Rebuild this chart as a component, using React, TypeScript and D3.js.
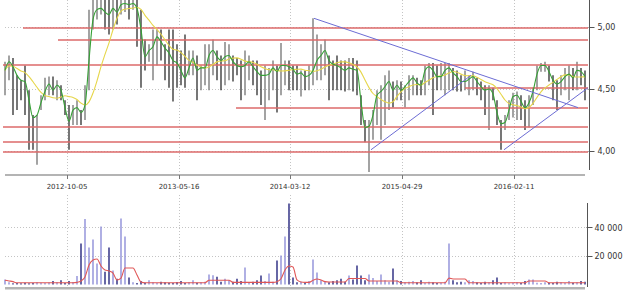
import React from 'react';
import * as d3 from 'd3';

const closes = [
  4.65, 4.72, 4.68, 4.61, 4.57, 4.56, 4.41, 4.27, 4.29, 4.39,
  4.48, 4.54, 4.49, 4.53, 4.49, 4.35, 4.24, 4.33, 4.35, 4.31,
  4.37, 4.73, 5.06, 5.14, 5.15, 5.12, 5.10, 5.15, 5.12, 5.18,
  5.19, 5.18, 5.19, 5.15, 4.98, 4.76, 4.81, 4.84, 4.92, 4.88,
  4.83, 4.79, 4.73, 4.71, 4.65, 4.59, 4.67, 4.75, 4.65, 4.67,
  4.67, 4.77, 4.81, 4.76, 4.73, 4.76, 4.77, 4.72, 4.69, 4.68,
  4.69, 4.72, 4.68, 4.64, 4.61, 4.61, 4.62, 4.67, 4.64, 4.69,
  4.69, 4.68, 4.66, 4.62, 4.63, 4.60, 4.61, 4.65, 4.73, 4.77,
  4.81, 4.73, 4.70, 4.69, 4.67, 4.65, 4.67, 4.66, 4.65, 4.40,
  4.19, 4.20, 4.29, 4.45, 4.48, 4.52, 4.56, 4.49, 4.53, 4.49,
  4.52, 4.56, 4.59, 4.55, 4.53, 4.65, 4.68, 4.65, 4.60, 4.60,
  4.65, 4.67, 4.63, 4.60, 4.56, 4.56, 4.58, 4.60, 4.56, 4.52,
  4.49, 4.50, 4.46, 4.31, 4.22, 4.23, 4.33, 4.44, 4.45, 4.40,
  4.35, 4.39, 4.48, 4.62, 4.69, 4.69, 4.64, 4.57, 4.54, 4.56,
  4.60, 4.62, 4.59, 4.65, 4.64, 4.60,
];

const highs = [
  4.72, 4.77, 4.75, 4.61, 4.57, 4.69, 4.49, 4.29, 4.25, 4.45,
  4.59, 4.60, 4.60, 4.57, 4.53, 4.41, 4.37, 4.37, 4.41, 4.33,
  4.53, 5.14, 5.22, 5.22, 5.22, 5.22, 5.22, 5.22, 5.22, 5.22,
  5.22, 5.22, 5.22, 5.22, 5.14, 4.90, 4.86, 4.98, 4.98, 4.98,
  4.86, 4.98, 4.98, 4.86, 4.81, 4.94, 4.81, 4.81, 4.77, 4.69,
  4.86, 4.86, 4.90, 4.81, 4.77, 4.88, 4.86, 4.77, 4.75, 4.73,
  4.81, 4.77, 4.73, 4.73, 4.65, 4.69, 4.67, 4.73, 4.69, 4.87,
  4.73, 4.73, 4.69, 4.69, 4.65, 4.65, 4.69, 5.07, 4.94, 4.86,
  4.90, 4.77, 4.73, 4.77, 4.73, 4.73, 4.75, 4.75, 4.73, 4.45,
  4.25, 4.25, 4.33, 4.49, 4.53, 4.61, 4.65, 4.56, 4.57, 4.56,
  4.53, 4.61, 4.61, 4.59, 4.57, 4.69, 4.71, 4.71, 4.69, 4.71,
  4.71, 4.71, 4.67, 4.65, 4.61, 4.65, 4.61, 4.64, 4.59, 4.56,
  4.53, 4.53, 4.51, 4.41, 4.25, 4.29, 4.41, 4.47, 4.48, 4.45,
  4.41, 4.45, 4.51, 4.69, 4.71, 4.72, 4.69, 4.61, 4.57, 4.61,
  4.67, 4.69, 4.67, 4.72, 4.67, 4.65,
];

const lows = [
  4.45, 4.57, 4.29, 4.33, 4.41, 4.29, 4.01, 4.01, 3.89, 4.33,
  4.41, 4.45, 4.45, 4.41, 4.41, 4.29, 4.01, 4.21, 4.21, 4.21,
  4.25, 4.49, 4.98, 5.06, 5.10, 4.98, 4.94, 4.98, 5.02, 5.10,
  5.12, 5.06, 5.14, 4.84, 4.51, 4.65, 4.72, 4.57, 4.69, 4.73,
  4.57, 4.51, 4.40, 4.51, 4.53, 4.51, 4.61, 4.61, 4.41, 4.49,
  4.53, 4.49, 4.61, 4.57, 4.49, 4.53, 4.57, 4.56, 4.61, 4.41,
  4.45, 4.57, 4.53, 4.45, 4.37, 4.25, 4.41, 4.49, 4.31, 4.45,
  4.53, 4.49, 4.49, 4.49, 4.44, 4.49, 4.49, 4.53, 4.57, 4.57,
  4.61, 4.41, 4.49, 4.49, 4.49, 4.48, 4.49, 4.48, 4.45, 4.21,
  4.07, 3.83, 4.09, 4.21, 4.09, 4.21, 4.33, 4.35, 4.41, 4.41,
  4.35, 4.41, 4.45, 4.45, 4.45, 4.45, 4.53, 4.29, 4.49, 4.49,
  4.45, 4.49, 4.49, 4.48, 4.48, 4.49, 4.45, 4.49, 4.45, 4.41,
  4.29, 4.17, 4.41, 4.21, 4.01, 4.17, 4.25, 4.27, 4.25, 4.25,
  4.17, 4.19, 4.37, 4.49, 4.64, 4.64, 4.56, 4.41, 4.33, 4.45,
  4.49, 4.41, 4.49, 4.49, 4.53, 4.41,
];

const volumes = [
  3500, 1500, 800, 1000, 800, 1200, 900, 1000, 1500, 1200,
  1000, 1400, 2500, 1500, 3000, 1000, 2500, 1800, 6000, 28800,
  46000, 26000, 31600, 14700, 40700, 9000, 26000, 9800, 4000, 46300,
  33700, 5000, 1500, 1000, 2500, 1200, 3000, 1500, 1000, 2000,
  1500, 1200, 1000, 1800, 2500, 1000, 1500, 3000, 1200, 1500,
  2000, 7000, 6500, 5500, 2000, 4000, 3000, 2000, 4000, 2500,
  12000, 1500, 2000, 3000, 6300, 2500, 7700, 2000, 16800, 20300,
  33700, 56800, 5000, 1500, 2000, 1000, 2500, 17500, 8400, 3000,
  2000, 1500, 2500, 3000, 4000, 2000, 6300, 3500, 13300, 6300,
  3000, 7000, 4500, 2500, 7000, 3000, 2000, 11200, 3000, 2500,
  1500, 2000, 2500, 1500, 3000, 1000, 2000, 1500, 1000, 1200,
  2000, 28800, 3000, 1500, 2000, 1500, 3000, 2500, 1500, 1000,
  2000, 1500, 3000, 4900, 1000, 1500, 800, 1200, 1500, 1000,
  2500, 3500, 3500, 1200, 1000, 1500, 1200, 1000, 2000, 1500,
  1000, 2500, 1200, 1500, 2500, 2000,
];

const volumeAvg = [
  3000, 2500, 2000, 1200, 1200, 1200, 1200, 1200, 1200, 1200,
  1200, 1200, 1200, 1200, 1200, 1200, 1200, 1200, 1500, 2500,
  5300, 13700, 17200, 17900, 13000, 10200, 9500, 8000, 3200, 4500,
  11600, 11600, 11600, 6700, 1800, 1200, 1200, 1200, 1200, 1200,
  1200, 1200, 1200, 1200, 1200, 1200, 1200, 1200, 1200, 1200,
  1200, 3000, 3000, 3000, 3000, 3000, 3000, 1500, 1500, 1500,
  1500, 1500, 1500, 1500, 1500, 1500, 1500, 1500, 2000, 4000,
  10200, 13000, 12300, 3200, 1800, 1500, 1500, 3000, 3900, 3200,
  2000, 1800, 1800, 1800, 1800, 1800, 4200, 4200, 4200, 4200,
  4200, 2500, 2500, 2500, 2500, 2500, 2500, 2500, 2500, 1200,
  1200, 1200, 1200, 1200, 1200, 1200, 1200, 1200, 1200, 1200,
  1200, 4500, 3900, 3900, 3900, 3900, 1200, 1200, 1200, 1200,
  1200, 1200, 1200, 1200, 1200, 1200, 1200, 1200, 1200, 1200,
  1200, 2500, 2500, 2500, 2500, 2500, 1200, 1200, 1200, 1200,
  1200, 1200, 1200, 1200, 1200, 1200,
];

const tickIdx = [15.5, 43.5, 71.25, 99.25, 127.25];
const tickLabels = ['2012-10-05', '2013-05-16', '2014-03-12', '2015-04-29', '2016-02-11'];
const priceTicks = [4.0, 4.5, 5.0];
const priceTickLabels = ['4,00', '4,50', '5,00'];
const volTicks = [20000, 40000];
const volTickLabels = ['20 000', '40 000'];
const levelPrices = [5.0, 4.9, 4.7, 4.51, 4.35, 4.2, 4.08, 4.0];
const levelStarts = [4.5, 13.25, -0.5, 115, 57.75, -0.5, -0.5, -0.5];
const trendStarts = [[77.25, 5.07], [91.5, 4.01], [124.75, 4.01]];
const trendEnds = [[143.25, 4.35], [116.5, 4.61], [145.75, 4.51]];

const N = closes.length;

function sma(arr: number[], p: number) {
  return arr.map((_, i) => {
    const s = Math.max(0, i - p + 1);
    return d3.mean(arr.slice(s, i + 1)) as number;
  });
}

const snap = (v: number) => Math.floor(v) + 0.5;

export default function App() {
  const x = d3.scaleLinear().domain([0, N - 1]).range([5, 585]);
  const y = d3.scaleLinear().domain([4, 5]).range([151, 27]);
  const yv = d3.scaleLinear().domain([0, 20000]).range([284.5, 256]);
  const axisX = 589.5;
  const endIdx = x.invert(axisX);

  const maLong = sma(closes, 8);

  const line = d3.line<number>().x((_, i) => x(i)).y((d) => y(d)).curve(d3.curveMonotoneX);
  const vline = d3.line<number>().x((_, i) => x(i)).y((d) => yv(d)).curve(d3.curveMonotoneX);

  const font = 'DejaVu Sans, Verdana, sans-serif';
  const gridColor = '#c4c4c4';

  return (
    <svg width={625} height={290} style={{ position: 'absolute', left: 0, top: 0, background: '#fff' }}>
      <defs>
        <clipPath id="pclip">
          <rect x={0} y={0} width={588} height={173} />
        </clipPath>
      </defs>
      {tickIdx.map((t, i) => (
        <line key={'vg' + i} x1={snap(x(t))} x2={snap(x(t))} y1={0} y2={175} stroke={gridColor} strokeDasharray="1,2" />
      ))}
      {priceTicks.map((p, i) => (
        <line key={'hg' + i} x1={5} x2={axisX} y1={snap(y(p))} y2={snap(y(p))} stroke={gridColor} strokeDasharray="1,2" />
      ))}
      {tickIdx.map((t, i) => (
        <line key={'vvg' + i} x1={snap(x(t))} x2={snap(x(t))} y1={195} y2={287} stroke={gridColor} strokeDasharray="1,2" />
      ))}
      {volTicks.map((v, i) => (
        <line key={'vhg' + i} x1={5} x2={axisX} y1={snap(yv(v))} y2={snap(yv(v))} stroke={gridColor} strokeDasharray="1,2" />
      ))}

      <g clipPath="url(#pclip)">
        {closes.map((c, i) => {
          const up = i === 0 ? true : c >= closes[i - 1];
          const hi = Math.max(highs[i], c);
          const lo = Math.min(lows[i], c);
          return (
            <line key={'b' + i} x1={x(i)} x2={x(i)} y1={y(hi)} y2={y(lo)}
              stroke={up ? '#8c8c8c' : '#1c1c1c'} strokeWidth={up ? 1.6 : 1.2} />
          );
        })}
        {levelPrices.map((p, i) => (
          <line key={'lv' + i} x1={x(levelStarts[i])} x2={x(endIdx)} y1={Math.floor(y(p)) + 1} y2={Math.floor(y(p)) + 1}
            stroke="#dc6a6a" strokeWidth={1.7} />
        ))}
        <path d={line(maLong) || ''} fill="none" stroke="#e6d64a" strokeWidth={1.1} />
        <path d={line(closes) || ''} fill="none" stroke="#36a036" strokeWidth={1.1} />
        {trendStarts.map((s, i) => (
          <line key={'tr' + i} x1={x(s[0])} y1={y(s[1])} x2={x(trendEnds[i][0])} y2={y(trendEnds[i][1])}
            stroke="#6c6cd4" strokeWidth={1} />
        ))}
      </g>

      <line x1={axisX} x2={axisX} y1={0} y2={170} stroke="#555" />
      {priceTicks.map((p, i) => (
        <g key={'pt' + i}>
          <line x1={axisX - 1} x2={axisX + 5} y1={snap(y(p))} y2={snap(y(p))} stroke="#555" />
          <text x={axisX + 8} y={y(p) + 3} fontFamily={font} fontSize={8} fill="#333">{priceTickLabels[i]}</text>
        </g>
      ))}
      <rect x={5} y={174} width={580} height={2} fill="#b4b4b4" />
      {tickIdx.map((t, i) => (
        <g key={'xt' + i}>
          <line x1={snap(x(t))} x2={snap(x(t))} y1={175} y2={179} stroke="#777" />
          <text x={x(t)} y={189} textAnchor="middle" fontFamily={font} fontSize={7} fill="#333">{tickLabels[i]}</text>
        </g>
      ))}

      {volumes.map((v, i) => {
        const up = i === 0 ? true : closes[i] >= closes[i - 1];
        return (
          <line key={'v' + i} x1={x(i)} x2={x(i)} y1={yv(v)} y2={yv(0)}
            stroke={up ? '#8e8ed8' : '#26267e'} strokeWidth={1.4} />
        );
      })}
      <path d={vline(volumeAvg) || ''} fill="none" stroke="#e05656" strokeWidth={1.1} />

      <line x1={axisX - 2} x2={axisX - 2} y1={203} y2={287} stroke="#555" />
      {volTicks.map((v, i) => (
        <g key={'vt' + i}>
          <line x1={axisX - 3} x2={axisX + 3} y1={snap(yv(v))} y2={snap(yv(v))} stroke="#555" />
          <text x={axisX + 5} y={yv(v) + 3} fontFamily={font} fontSize={8} fill="#333">{volTickLabels[i]}</text>
        </g>
      ))}
      <rect x={5} y={287} width={580} height={2.5} fill="#b4b4b4" />
    </svg>
  );
}
